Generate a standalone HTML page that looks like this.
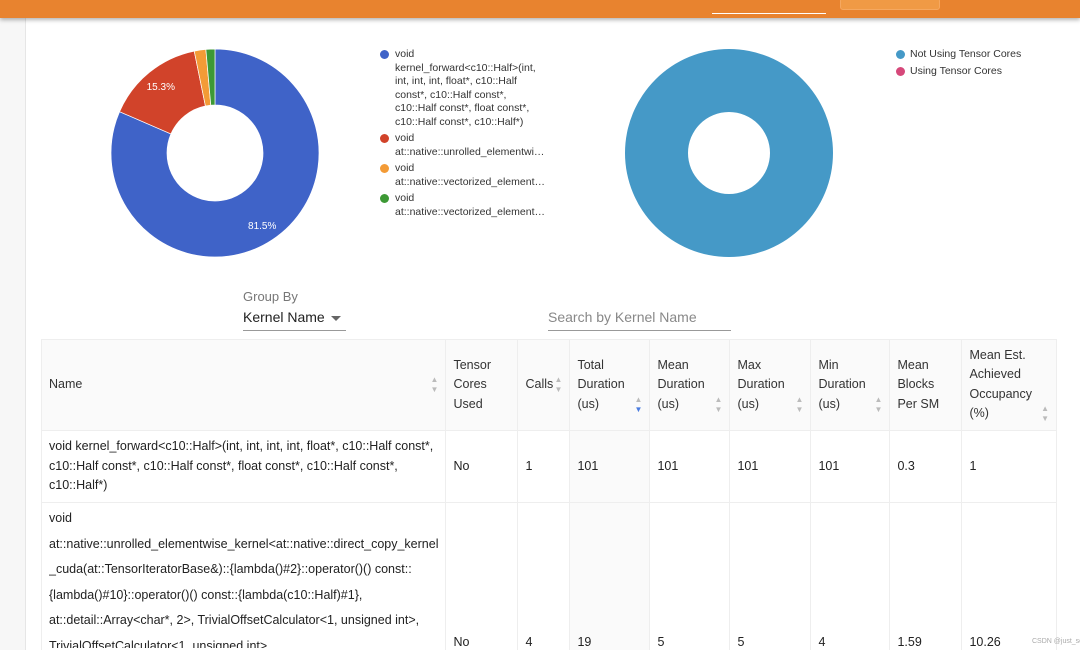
<!DOCTYPE html>
<html><head><meta charset="utf-8"><style>
html,body{margin:0;width:1080px;height:650px;overflow:hidden}
body{background:#fff;font-family:"Liberation Sans",sans-serif;position:relative}
#wrap{position:relative;width:1080px;height:650px;overflow:hidden}
.abs{position:absolute}
#topbar{left:0;top:0;width:1080px;height:18px;background:#e8832f;box-shadow:0 2px 4px rgba(0,0,0,.3);z-index:2}
#side{left:0;top:18px;width:25px;height:632px;background:#f7f7f7;border-right:1px solid #e6e6e6}
.leg{font-size:10.5px;color:#333;line-height:13.5px}
.dot{display:inline-block;width:9px;height:9px;border-radius:50%;position:absolute;left:0;top:2px}
table{border-collapse:collapse;font-size:12.5px;color:#222}
td,th{border:1px solid #eee;text-align:left;vertical-align:middle;padding:0 7px;font-weight:normal;line-height:19.5px}
th{color:#333}
.s{float:right;color:#bbb;font-size:8px;line-height:10px}
.r2{vertical-align:top;padding-top:130px}
</style></head><body><div id="wrap">
<div id="topbar" class="abs">
 <div class="abs" style="left:712px;top:13px;width:114px;height:1px;background:#fff"></div>
 <div class="abs" style="left:840px;top:-2px;width:98px;height:10px;border:1px solid #f5a860;border-radius:3px;background:#f09a45"></div>
</div>
<div id="side" class="abs"></div>
<svg class="abs" style="left:0;top:0" width="1080" height="340" id="charts">
<g id="pie1"></g>
<g id="pie2"></g>
</svg>
<div class="abs leg" style="left:380px;top:48px;width:170px">
 <div style="position:relative;padding-left:15px;margin-bottom:3px"><span class="dot" style="background:#3f63c8"></span>void<br>kernel_forward&lt;c10::Half&gt;(int, int, int, int, float*, c10::Half const*, c10::Half const*, c10::Half const*, float const*, c10::Half const*, c10::Half*)</div>
 <div style="position:relative;padding-left:15px;margin-bottom:3px"><span class="dot" style="background:#d1432a"></span>void<br>at::native::unrolled_elementwi…</div>
 <div style="position:relative;padding-left:15px;margin-bottom:3px"><span class="dot" style="background:#f39b36"></span>void<br>at::native::vectorized_element…</div>
 <div style="position:relative;padding-left:15px"><span class="dot" style="background:#3d9935"></span>void<br>at::native::vectorized_element…</div>
</div>
<div class="abs leg" style="left:896px;top:48px;width:180px">
 <div style="position:relative;padding-left:14px;margin-bottom:3px"><span class="dot" style="background:#4599c7"></span>Not Using Tensor Cores</div>
 <div style="position:relative;padding-left:14px"><span class="dot" style="background:#d6487a"></span>Using Tensor Cores</div>
</div>
<div class="abs" style="left:243px;top:289px;font-size:13px;color:#777">Group By</div>
<div class="abs" style="left:243px;top:309px;width:103px;height:21px;border-bottom:1px solid #999;font-size:14px;color:#222">Kernel Name<span style="position:absolute;left:88px;top:7px;border-left:5px solid transparent;border-right:5px solid transparent;border-top:5px solid #666"></span></div>
<div class="abs" style="left:548px;top:309px;width:183px;height:21px;border-bottom:1px solid #999;font-size:14px;color:#888">Search by Kernel Name</div>
<table class="abs" style="left:41px;top:339px;width:1016px">
<tr style="height:91px;background:#fafafa">
<th style="width:386px">Name<span class="s">▲<br>▼</span></th>
<th style="width:57px">Tensor Cores Used</th>
<th style="width:37px">Calls <span class="s">▲<br>▼</span></th>
<th style="width:65px">Total Duration (us)<span class="s">▲<br><span style="color:#4a7ce0">▼</span></span></th>
<th style="width:65px">Mean Duration (us)<span class="s">▲<br>▼</span></th>
<th style="width:66px">Max Duration (us)<span class="s">▲<br>▼</span></th>
<th style="width:64px">Min Duration (us)<span class="s">▲<br>▼</span></th>
<th style="width:57px">Mean Blocks Per SM</th>
<th>Mean Est. Achieved Occupancy (%)<span class="s">▲<br>▼</span></th>
</tr>
<tr style="height:72px">
<td>void kernel_forward&lt;c10::Half&gt;(int, int, int, int, float*, c10::Half const*, c10::Half const*, c10::Half const*, float const*, c10::Half const*, c10::Half*)</td>
<td>No</td><td>1</td><td style="background:#fafafa">101</td><td>101</td><td>101</td><td>101</td><td>0.3</td><td>1</td></tr>
<tr>
<td style="padding-top:3px;vertical-align:top;border-bottom:none"><div style="line-height:25.5px;height:142px;overflow:hidden">void at::native::unrolled_elementwise_kernel&lt;at::native::direct_copy_kernel _cuda(at::TensorIteratorBase&amp;)::{lambda()#2}::operator()() const::{lambda()#10}::operator()() const::{lambda(c10::Half)#1}, at::detail::Array&lt;char*, 2&gt;, TrivialOffsetCalculator&lt;1, unsigned int&gt;, TrivialOffsetCalculator&lt;1, unsigned int&gt;, at::native::memory::LoadWithCast&lt;1&gt;, at::native::memory::StoreWithCast&lt;1&gt; (int</div></td>
<td class="r2">No</td><td class="r2">4</td><td class="r2" style="background:#fafafa">19</td><td class="r2">5</td><td class="r2">5</td><td class="r2">4</td><td class="r2">1.59</td><td class="r2">10.26</td></tr>
</table>
<div class="abs" style="left:1032px;top:638px;font-size:7px;color:#aaa;white-space:nowrap">CSDN @just_sort</div>
</div>
<script>
const kernelLabels=["kernel_forward","unrolled_elementwise","vectorized_elementwise_1","vectorized_elementwise_2"];
const kernelValues=[81.5,15.3,1.8,1.4];
const kernelColors=["#3f63c8","#d1432a","#f39b36","#3d9935"];
const tcLabels=["Not Using Tensor Cores","Using Tensor Cores"];
const tcValues=[100,0];
const tcColors=["#4599c7","#d6487a"];
const NS="http://www.w3.org/2000/svg";
function arc(cx,cy,R,r,a0,a1){
 const p=(rad,a)=>[cx+rad*Math.sin(a),cy-rad*Math.cos(a)];
 if(a1-a0>=2*Math.PI-1e-6){
  return `M${cx},${cy-R}A${R},${R} 0 1 1 ${cx},${cy+R}A${R},${R} 0 1 1 ${cx},${cy-R}ZM${cx},${cy-r}A${r},${r} 0 1 0 ${cx},${cy+r}A${r},${r} 0 1 0 ${cx},${cy-r}Z`;
 }
 const L=(a1-a0)>Math.PI?1:0;
 const[a,b]=p(R,a0),[c,d]=p(R,a1),[e,f]=p(r,a1),[g,h]=p(r,a0);
 return `M${a},${b}A${R},${R} 0 ${L} 1 ${c},${d}L${e},${f}A${r},${r} 0 ${L} 0 ${g},${h}Z`;
}
function donut(gid,labels,vals,cols,cx,cy,R,r,showPct){
 const g=document.getElementById(gid);
 const tot=vals.reduce((s,v)=>s+v,0);let a=0;
 const nz=vals.filter(v=>v>0).length;
 vals.forEach((v,i)=>{
  if(v<=0)return;
  const a1=a+v/tot*2*Math.PI;
  const p=document.createElementNS(NS,"path");
  p.setAttribute("d",arc(cx,cy,R,r,a,a1));p.setAttribute("fill",cols[i]);
  p.setAttribute("fill-rule","evenodd");
  if(nz>1){p.setAttribute("stroke","#fff");p.setAttribute("stroke-width","0.7");}
  
  
  g.appendChild(p);
  if(showPct&&v/tot>0.05){
   const m=(a+a1)/2,rr=(R+r)/2+10;
   const t=document.createElementNS(NS,"text");
   t.setAttribute("x",cx+rr*Math.sin(m));t.setAttribute("y",cy-rr*Math.cos(m)+4);
   t.setAttribute("fill","#fff");t.setAttribute("font-size","10");t.setAttribute("text-anchor","middle");
   t.setAttribute("font-family","Liberation Sans, sans-serif");
   t.textContent=(v/tot*100).toFixed(1)+"%";
   
   
   g.appendChild(t);
  }
  a=a1;
 });
}
donut("pie1",kernelLabels,kernelValues,kernelColors,215,153,104,48,true);
donut("pie2",tcLabels,tcValues,tcColors,729,153,104,41,false);
</script>
</body></html>
